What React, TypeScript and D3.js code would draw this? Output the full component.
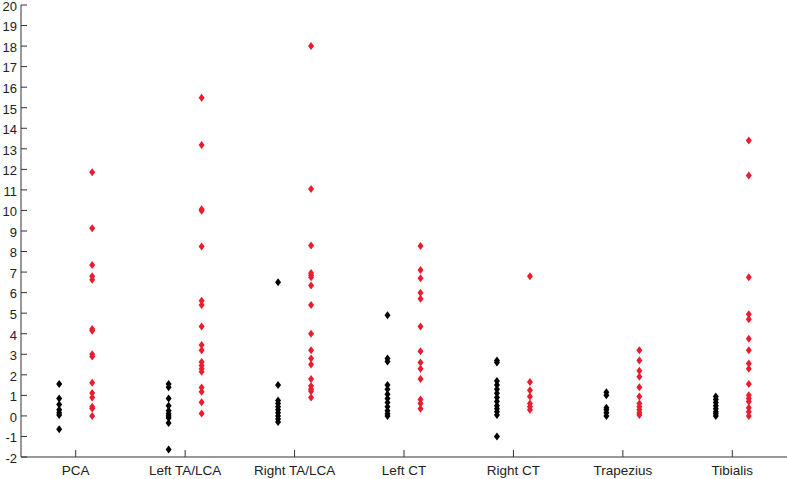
import React from "react";
import * as d3 from "d3";

const categories = ["PCA", "Left TA/LCA", "Right TA/LCA", "Left CT", "Right CT", "Trapezius", "Tibialis"];

const blackValues: number[][] = [
  [1.55, 0.85, 0.55, 0.3, 0.15, 0.05, -0.65],
  [1.55, 1.4, 0.85, 0.5, 0.25, 0.1, 0.0, -0.1, -0.35, -1.63],
  [6.5, 1.5, 0.75, 0.6, 0.45, 0.3, 0.15, 0.0, -0.15, -0.3],
  [4.9, 2.8, 2.65, 1.5, 1.3, 1.05, 0.85, 0.65, 0.45, 0.25, 0.1, 0.0],
  [2.7, 2.6, 1.7, 1.5, 1.3, 1.1, 0.9, 0.7, 0.5, 0.35, 0.2, 0.05, -1.0],
  [1.15, 1.0, 0.4, 0.3, 0.15, 0.0],
  [0.95, 0.8, 0.65, 0.5, 0.35, 0.2, 0.1, 0.0],
];

const redValues: number[][] = [
  [11.86, 9.13, 7.35, 6.8, 6.63, 4.23, 4.15, 3.0, 2.89, 1.62, 1.12, 0.89, 0.45, 0.36, 0.0],
  [15.49, 13.19, 10.06, 9.98, 8.24, 5.6, 5.4, 4.35, 3.45, 3.2, 2.62, 2.45, 2.3, 2.15, 1.38, 1.18, 0.66, 0.12],
  [18.0, 11.05, 8.3, 6.95, 6.85, 6.75, 6.35, 5.4, 4.0, 3.2, 2.8, 2.5, 1.8, 1.45, 1.3, 1.2, 0.9],
  [8.27, 7.1, 6.7, 6.0, 5.7, 4.35, 3.15, 2.6, 2.3, 1.8, 0.8, 0.6, 0.35],
  [6.8, 1.65, 1.25, 0.95, 0.6, 0.45, 0.3],
  [3.2, 2.7, 2.2, 1.9, 1.4, 0.95, 0.6, 0.45, 0.3, 0.15, 0.05],
  [13.4, 11.7, 6.75, 4.95, 4.7, 3.75, 3.2, 2.55, 2.3, 1.55, 1.0, 0.85, 0.7, 0.4, 0.2, 0.0],
];

const yTicks = d3.range(-2, 21, 1);

const W = 787;
const H = 479;
const left = 21;
const right = 787;
const top = 5;
const bottom = 457;

export default function App() {
  const x = d3.scalePoint<string>().domain(categories).range([left, right]).padding(0.5);
  const y = d3.scaleLinear().domain([-2, 20]).range([bottom, top]);
  const diamond = "M0,-4L3,0L0,4L-3,0Z";
  const font = "'Liberation Sans', Arial, sans-serif";
  const axisColor = "#333";

  return (
    <svg width={W} height={H} style={{ position: "absolute", left: 0, top: 0, background: "#fff" }}>
      <rect width={W} height={H} fill="#fff" />
      <line x1={left} x2={left} y1={top} y2={bottom} stroke={axisColor} strokeWidth={1} />
      <line x1={left} x2={right} y1={bottom} y2={bottom} stroke={axisColor} strokeWidth={1} />
      {yTicks.map((t) => (
        <g key={t}>
          <line x1={left} x2={left + 6} y1={y(t)} y2={y(t)} stroke={axisColor} />
          <text x={left - 4} y={y(t)} dy="0.45em" textAnchor="end" fontFamily={font} fontSize={13} fill="#222">
            {t}
          </text>
        </g>
      ))}
      {categories.map((c) => (
        <g key={c}>
          <line x1={x(c)!} x2={x(c)!} y1={bottom} y2={bottom - 7} stroke={axisColor} />
          <text x={x(c)!} y={bottom + 18} textAnchor="middle" fontFamily={font} fontSize={13.5} fill="#222">
            {c}
          </text>
        </g>
      ))}
      {categories.map((c, i) => (
        <g key={"b" + c}>
          {blackValues[i].map((v, j) => (
            <path key={j} d={diamond} transform={`translate(${x(c)! - 16.5},${y(v)})`} fill="#000" />
          ))}
          {redValues[i].map((v, j) => (
            <path key={"r" + j} d={diamond} transform={`translate(${x(c)! + 16.5},${y(v)})`} fill="#ec1c2e" />
          ))}
        </g>
      ))}
    </svg>
  );
}
